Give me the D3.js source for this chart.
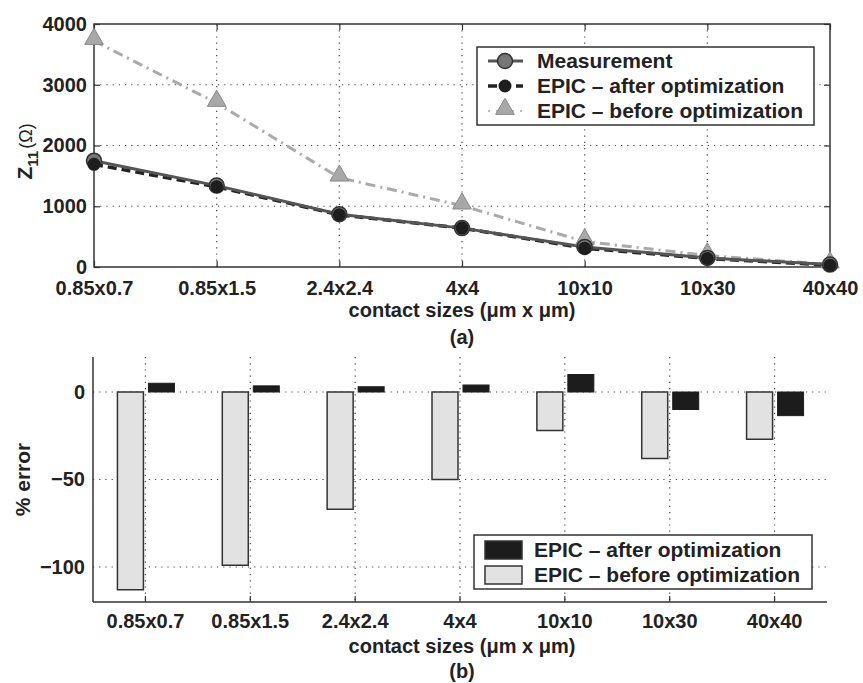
<!DOCTYPE html>
<html>
<head>
<meta charset="utf-8">
<script src="https://cdn.jsdelivr.net/npm/d3@7"></script>
<style>
  body { margin: 0; background: #fff; }
  svg text { font-family: "Liberation Sans", Arial, sans-serif; font-weight: bold; fill: #222; }
</style>
</head>
<body>
<script>
const sizes = ["0.85x0.7", "0.85x1.5", "2.4x2.4", "4x4", "10x10", "10x30", "40x40"];
const measurement = [1750, 1340, 870, 640, 330, 150, 40];
const afterOpt = [1690, 1320, 860, 640, 310, 140, 30];
const beforeOpt = [3720, 2700, 1470, 1010, 420, 190, 40];
const zTicks = [0, 1000, 2000, 3000, 4000];
const errBefore = [-113, -99, -67, -50, -22, -38, -27];
const errAfter = [5, 3.5, 3, 4, 10, -10, -13.5];
const errTicks = [-100, -50, 0];

const width = 863, height = 683;
const svg = d3.select("body").append("svg")
  .attr("width", width).attr("height", height);

// ---------- (a) impedance plot ----------
const pa = { left: 94, right: 830, top: 24, bottom: 267 };
const x1 = d3.scalePoint().domain(sizes).range([pa.left, pa.right]);
const y1 = d3.scaleLinear().domain([0, 4000]).range([pa.bottom, pa.top]);

const g1 = svg.append("g");

// grid
g1.append("g").selectAll("line").data(zTicks.slice(1, -1)).join("line")
  .attr("x1", pa.left).attr("x2", pa.right)
  .attr("y1", d => y1(d)).attr("y2", d => y1(d))
  .attr("stroke", "#444").attr("stroke-width", 1.2).attr("stroke-dasharray", "1.2,5");
g1.append("g").selectAll("line").data(sizes.slice(1, -1)).join("line")
  .attr("x1", d => x1(d)).attr("x2", d => x1(d))
  .attr("y1", pa.top).attr("y2", pa.bottom)
  .attr("stroke", "#444").attr("stroke-width", 1.2).attr("stroke-dasharray", "1.2,5");

// frame
g1.append("rect")
  .attr("x", pa.left).attr("y", pa.top)
  .attr("width", pa.right - pa.left).attr("height", pa.bottom - pa.top)
  .attr("fill", "none").attr("stroke", "#333").attr("stroke-width", 1.5);

// axes
const ax1 = g1.append("g").attr("transform", `translate(${pa.left},0)`)
  .call(d3.axisLeft(y1).tickValues(zTicks).tickFormat(d3.format("d")).tickSize(-6).tickPadding(7));
const ax1r = g1.append("g").attr("transform", `translate(${pa.right},0)`)
  .call(d3.axisRight(y1).tickValues(zTicks).tickSize(-6).tickFormat(""));
const ax1b = g1.append("g").attr("transform", `translate(0,${pa.bottom})`)
  .call(d3.axisBottom(x1).tickSize(-6).tickPadding(14));
const ax1t = g1.append("g").attr("transform", `translate(0,${pa.top})`)
  .call(d3.axisTop(x1).tickSize(-6).tickFormat(""));
[ax1, ax1r, ax1b, ax1t].forEach(a => {
  a.select(".domain").remove();
  a.selectAll(".tick line").attr("stroke", "#333").attr("stroke-width", 1.2);
  a.selectAll("text").style("font-size", "20px").attr("fill", "#222");
});

// lines
const line1 = d3.line().x((d, i) => x1(sizes[i])).y(d => y1(d));
g1.append("path").datum(beforeOpt).attr("d", line1)
  .attr("fill", "none").attr("stroke", "#aaa").attr("stroke-width", 3)
  .attr("stroke-dasharray", "10,5,2,5");
g1.append("path").datum(afterOpt).attr("d", line1)
  .attr("fill", "none").attr("stroke", "#222").attr("stroke-width", 3.5)
  .attr("stroke-dasharray", "9,5");
g1.append("path").datum(measurement).attr("d", line1)
  .attr("fill", "none").attr("stroke", "#555").attr("stroke-width", 3);

const tri = d3.symbol().type(d3.symbolTriangle).size(150);
g1.append("g").selectAll("path").data(beforeOpt).join("path")
  .attr("d", tri)
  .attr("transform", (d, i) => `translate(${x1(sizes[i])},${y1(d) - 2})`)
  .attr("fill", "#a8a8a8").attr("stroke", "#888").attr("stroke-width", 1);
g1.append("g").selectAll("circle").data(measurement).join("circle")
  .attr("cx", (d, i) => x1(sizes[i])).attr("cy", d => y1(d)).attr("r", 7.5)
  .attr("fill", "#777").attr("stroke", "#333").attr("stroke-width", 1.5);
g1.append("g").selectAll("circle").data(afterOpt).join("circle")
  .attr("cx", (d, i) => x1(sizes[i])).attr("cy", d => y1(d)).attr("r", 6.5)
  .attr("fill", "#1e1e1e");

// legend (a)
const leg1 = g1.append("g").attr("transform", "translate(477,47)");
leg1.append("rect").attr("width", 337).attr("height", 78)
  .attr("fill", "#fff").attr("stroke", "#333").attr("stroke-width", 1.5);
const legA = [
  { label: "Measurement", kind: "meas" },
  { label: "EPIC \u2013 after optimization", kind: "after" },
  { label: "EPIC \u2013 before optimization", kind: "before" }
];
legA.forEach((d, i) => {
  const yy = 14 + i * 25;
  const row = leg1.append("g").attr("transform", `translate(0,${yy})`);
  if (d.kind === "meas") {
    row.append("line").attr("x1", 11).attr("x2", 46).attr("stroke", "#555").attr("stroke-width", 3);
    row.append("circle").attr("cx", 28).attr("r", 7.5).attr("fill", "#777").attr("stroke", "#333").attr("stroke-width", 1.5);
  } else if (d.kind === "after") {
    row.append("line").attr("x1", 11).attr("x2", 46).attr("stroke", "#222").attr("stroke-width", 3.5).attr("stroke-dasharray", "9,5");
    row.append("circle").attr("cx", 28).attr("r", 6.5).attr("fill", "#1e1e1e");
  } else {
    row.append("line").attr("x1", 11).attr("x2", 46).attr("stroke", "#bbb").attr("stroke-width", 2).attr("stroke-dasharray", "2,6");
    row.append("path").attr("d", tri).attr("transform", "translate(28,-2)")
      .attr("fill", "#a8a8a8").attr("stroke", "#888");
  }
  row.append("text").attr("x", 60).attr("y", 7).style("font-size", "21px").text(d.label);
});

// axis titles (a)
const ylab1 = svg.append("text")
  .attr("transform", `translate(32,${(pa.top + pa.bottom) / 2 + 34}) rotate(-90)`)
  .style("font-size", "21px");
ylab1.append("tspan").text("Z");
ylab1.append("tspan").attr("dy", 6).style("font-size", "15px").text("11");
ylab1.append("tspan").attr("dy", -6).attr("dx", 2).style("font-size", "18px").style("font-weight", "normal").text("(\u03a9)");

svg.append("text").attr("x", (pa.left + pa.right) / 2).attr("y", 317)
  .attr("text-anchor", "middle").style("font-size", "20px")
  .text("contact sizes (\u03bcm x \u03bcm)");
svg.append("text").attr("x", (pa.left + pa.right) / 2).attr("y", 344)
  .attr("text-anchor", "middle").style("font-size", "20px").text("(a)");

// ---------- (b) error bars ----------
const pb = { left: 93, right: 827, top: 357, bottom: 602 };
const x2 = d3.scaleBand().domain(sizes).range([pb.left, pb.right]).padding(0);
const y2 = d3.scaleLinear().domain([-120, 20]).range([pb.bottom, pb.top]);
const g2 = svg.append("g");

g2.append("g").selectAll("line").data(errTicks).join("line")
  .attr("x1", pb.left).attr("x2", pb.right)
  .attr("y1", d => y2(d)).attr("y2", d => y2(d))
  .attr("stroke", "#444").attr("stroke-width", 1.2).attr("stroke-dasharray", "1.2,5");
g2.append("g").selectAll("line").data(sizes).join("line")
  .attr("x1", d => x2(d) + x2.bandwidth() / 2).attr("x2", d => x2(d) + x2.bandwidth() / 2)
  .attr("y1", pb.top).attr("y2", pb.bottom)
  .attr("stroke", "#444").attr("stroke-width", 1.2).attr("stroke-dasharray", "1.2,5");

const bw = 26;
g2.append("g").selectAll("rect").data(errBefore).join("rect")
  .attr("x", (d, i) => x2(sizes[i]) + x2.bandwidth() / 2 - 2 - bw)
  .attr("y", d => Math.min(y2(d), y2(0)))
  .attr("width", bw)
  .attr("height", d => Math.abs(y2(d) - y2(0)))
  .attr("fill", "#e2e2e2").attr("stroke", "#333").attr("stroke-width", 1.5);
g2.append("g").selectAll("rect").data(errAfter).join("rect")
  .attr("x", (d, i) => x2(sizes[i]) + x2.bandwidth() / 2 + 3)
  .attr("y", d => Math.min(y2(d), y2(0)))
  .attr("width", bw)
  .attr("height", d => Math.abs(y2(d) - y2(0)))
  .attr("fill", "#1c1c1c").attr("stroke", "#1c1c1c").attr("stroke-width", 1);

const ax2 = g2.append("g").attr("transform", `translate(${pb.left},0)`)
  .call(d3.axisLeft(y2).tickValues(errTicks).tickSize(0).tickPadding(8));
const ax2b = g2.append("g").attr("transform", `translate(0,${pb.bottom})`)
  .call(d3.axisBottom(x2).tickSize(-6).tickPadding(12));
[ax2, ax2b].forEach(a => {
  a.select(".domain").attr("stroke", "#333").attr("stroke-width", 1.5);
  a.selectAll(".tick line").attr("stroke", "#333").attr("stroke-width", 1.2);
  a.selectAll("text").style("font-size", "20px").attr("fill", "#222");
});
ax2.select(".domain").attr("d", `M0,${pb.top}V${pb.bottom}`);
ax2b.select(".domain").attr("d", `M${pb.left},0H${pb.right}`);

// legend (b)
const leg2 = g2.append("g").attr("transform", "translate(474,535)");
leg2.append("rect").attr("width", 338).attr("height", 54)
  .attr("fill", "#fff").attr("stroke", "#333").attr("stroke-width", 1.5);
const legB = [
  { label: "EPIC \u2013 after optimization", fill: "#1c1c1c" },
  { label: "EPIC \u2013 before optimization", fill: "#e2e2e2" }
];
legB.forEach((d, i) => {
  const row = leg2.append("g").attr("transform", `translate(0,${15 + i * 25})`);
  row.append("rect").attr("x", 11).attr("y", -9).attr("width", 37).attr("height", 18)
    .attr("fill", d.fill).attr("stroke", "#333").attr("stroke-width", 1.5);
  row.append("text").attr("x", 60).attr("y", 7).style("font-size", "21px").text(d.label);
});

svg.append("text")
  .attr("transform", `translate(30,${(pb.top + pb.bottom) / 2}) rotate(-90)`)
  .attr("text-anchor", "middle").style("font-size", "21px").text("% error");
svg.append("text").attr("x", (pa.left + pa.right) / 2).attr("y", 653)
  .attr("text-anchor", "middle").style("font-size", "20px")
  .text("contact sizes (\u03bcm x \u03bcm)");
svg.append("text").attr("x", (pa.left + pa.right) / 2).attr("y", 678)
  .attr("text-anchor", "middle").style("font-size", "20px").text("(b)");
</script>
</body>
</html>
